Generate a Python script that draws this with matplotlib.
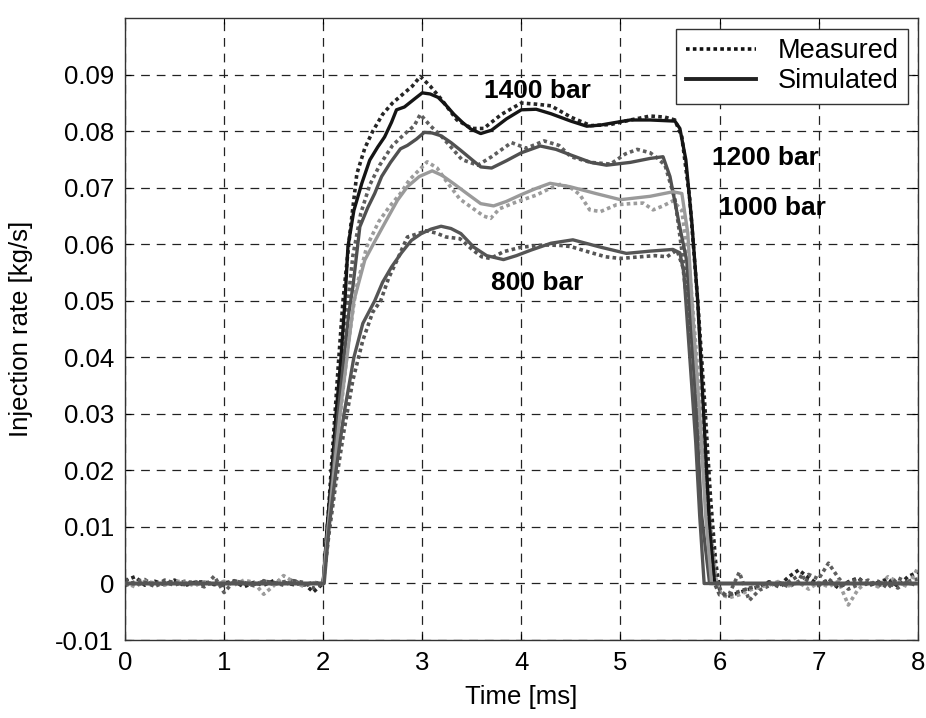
import matplotlib
matplotlib.use('Agg')
import matplotlib.pyplot as plt
from matplotlib.lines import Line2D

plt.rcParams['font.family'] = ['Liberation Sans', 'DejaVu Sans']

# simulated injection rates [kg/s] vs time [ms]
sim_1400_t = [0, 2.0, 2.04, 2.09, 2.13, 2.18, 2.22, 2.25, 2.31, 2.39, 2.47, 2.55, 2.62, 2.69, 2.74, 2.82, 2.92, 3.0,
              3.08, 3.16, 3.24, 3.32, 3.41, 3.49, 3.59, 3.7, 3.85, 4.0, 4.15, 4.3, 4.5, 4.66, 4.8, 4.93, 5.1, 5.3,
              5.55, 5.6, 5.66, 5.72, 5.78, 5.84, 5.9, 5.95, 8.0]
sim_1400_y = [0, 0, 0.01, 0.02, 0.03, 0.04, 0.05, 0.0596, 0.066, 0.0708, 0.0749, 0.0772, 0.079, 0.0816, 0.0838, 0.0843,
              0.0857, 0.0868, 0.0866, 0.086, 0.0846, 0.083, 0.0815, 0.0804, 0.0796, 0.0802, 0.0822, 0.0838, 0.0839,
              0.0831, 0.0818, 0.0809, 0.0811, 0.0815, 0.082, 0.082, 0.0818, 0.0805, 0.075, 0.064, 0.05, 0.03, 0.01, 0, 0]

sim_1200_t = [0, 2.0, 2.05, 2.10, 2.15, 2.21, 2.26, 2.3, 2.37, 2.45, 2.52, 2.59, 2.68, 2.78, 2.85, 2.94, 3.02, 3.1,
              3.19, 3.29, 3.39, 3.5, 3.59, 3.7, 3.85, 4.0, 4.19, 4.35, 4.5, 4.7, 4.86, 5.1, 5.3, 5.43, 5.5, 5.6,
              5.67, 5.75, 5.82, 5.9, 8.0]
sim_1200_y = [0, 0, 0.01, 0.02, 0.03, 0.04, 0.048, 0.0525, 0.0631, 0.0665, 0.069, 0.072, 0.0745, 0.0769, 0.0775, 0.0786,
              0.0798, 0.0797, 0.0792, 0.078, 0.0766, 0.075, 0.0737, 0.0735, 0.0748, 0.0762, 0.0774, 0.0768, 0.0758,
              0.0745, 0.074, 0.0745, 0.0752, 0.0755, 0.072, 0.063, 0.057, 0.035, 0.012, 0, 0]

sim_1000_t = [0, 2.0, 2.05, 2.11, 2.17, 2.24, 2.31, 2.42, 2.52, 2.62, 2.75, 2.85, 2.97, 3.1, 3.2, 3.32, 3.45, 3.59,
              3.72, 3.85, 4.0, 4.15, 4.29, 4.49, 4.75, 5.0, 5.3, 5.53, 5.62, 5.68, 5.74, 5.8, 5.86, 5.92, 8.0]
sim_1000_y = [0, 0, 0.01, 0.02, 0.03, 0.04, 0.05, 0.0572, 0.0605, 0.0637, 0.0678, 0.0702, 0.072, 0.073, 0.0722, 0.0707,
              0.069, 0.0672, 0.0668, 0.0676, 0.0688, 0.0699, 0.0708, 0.0702, 0.069, 0.0679, 0.0685, 0.0693, 0.069, 0.062,
              0.045, 0.03, 0.012, 0, 0]

sim_800_t = [0, 2.01, 2.06, 2.13, 2.21, 2.31, 2.40, 2.52, 2.6, 2.69, 2.79, 2.89, 2.99, 3.09, 3.19, 3.29, 3.39, 3.52,
             3.65, 3.82, 3.95, 4.1, 4.3, 4.52, 4.8, 5.06, 5.3, 5.53, 5.6, 5.64, 5.68, 5.72, 5.76, 5.8, 5.845, 8.0]
sim_800_y = [0, 0, 0.01, 0.02, 0.03, 0.04, 0.046, 0.05, 0.0533, 0.056, 0.0585, 0.0607, 0.0619, 0.0627, 0.0632, 0.0628,
             0.0619, 0.0595, 0.058, 0.0573, 0.058, 0.059, 0.0602, 0.0608, 0.0595, 0.0584, 0.0588, 0.0591, 0.0585, 0.055,
             0.045, 0.035, 0.025, 0.012, 0, 0]

# measured: baseline before injection, injection event, baseline after
t_pre = [0.0, 0.1, 0.2, 0.3, 0.4, 0.5, 0.6, 0.7, 0.8, 0.9, 1.0, 1.1, 1.2, 1.3, 1.4, 1.5, 1.6, 1.7, 1.8, 1.9]
t_post = [6.1, 6.2, 6.3, 6.4, 6.5, 6.6, 6.7, 6.8, 6.9, 7.0, 7.1, 7.2, 7.3, 7.4, 7.5, 7.6, 7.7, 7.8, 7.9, 8.0]

meas_1400_pre = [0.0005, 0.0012, -0.0003, 0.0004, -0.0002, 0.0006, -0.0004, 0.0002, 0.0003, -0.0002,
                 0.0001, 0.0004, -0.0006, 0.0002, -0.0003, 0.0005, 0.0002, -0.0002, 0.0001, -0.0015]
meas_1200_pre = [-0.0004, 0.0003, 0.0007, -0.0005, 0.0002, -0.0003, 0.0004, 0.0001, -0.0006, 0.0013,
                 -0.0016, 0.0004, 0.0002, -0.0004, 0.0005, -0.0002, 0.0003, 0.0006, -0.0003, 0.0002]
meas_1000_pre = [0.0002, -0.0006, 0.0004, 0.0001, -0.0003, 0.0005, 0.0002, -0.0004, 0.0003, -0.0002,
                 0.0004, -0.0003, 0.0006, 0.0002, -0.0019, -0.0004, 0.0014, 0.0003, -0.0005, 0.0001]
meas_800_pre = [0.0008, -0.0002, 0.0002, -0.0005, 0.0006, 0.0001, -0.0002, 0.0004, -0.0003, 0.0002,
                -0.0004, 0.0005, 0.0001, -0.0002, 0.0004, 0.0002, -0.0003, 0.0005, 0.0002, -0.0008]

meas_1400_mid_t = [2.0, 2.05, 2.1, 2.15, 2.2, 2.27, 2.34, 2.42, 2.5, 2.6, 2.7, 2.8, 2.9, 2.98, 3.08, 3.2, 3.35, 3.5, 3.62,
                   3.8, 4.0, 4.15, 4.3, 4.5, 4.7, 4.9, 5.1, 5.3, 5.45, 5.55, 5.62, 5.7, 5.78, 5.85, 5.91, 5.96, 6.0, 6.05]
meas_1400_mid_y = [0.0, 0.012, 0.025, 0.038, 0.05, 0.062, 0.0725, 0.077, 0.080, 0.083, 0.085, 0.0865, 0.088, 0.0897, 0.088,
                   0.0855, 0.082, 0.0805, 0.0805, 0.083, 0.085, 0.0848, 0.0845, 0.0825, 0.081, 0.0812, 0.082, 0.0827, 0.0825,
                   0.082, 0.079, 0.068, 0.05, 0.032, 0.015, 0.004, -0.001, -0.002]

meas_1200_mid_t = [2.0, 2.05, 2.1, 2.16, 2.22, 2.3, 2.38, 2.47, 2.57, 2.7, 2.82, 2.92, 2.98, 3.08, 3.2, 3.4, 3.56, 3.7, 3.9,
                   4.05, 4.23, 4.38, 4.5, 4.7, 4.9, 5.05, 5.17, 5.3, 5.37, 5.45, 5.55, 5.65, 5.75, 5.83, 5.9, 5.96, 6.02, 6.06]
meas_1200_mid_y = [0.0, 0.011, 0.022, 0.034, 0.045, 0.058, 0.0655, 0.0705, 0.074, 0.0775, 0.0795, 0.081, 0.083, 0.081,
                   0.079, 0.075, 0.074, 0.0755, 0.078, 0.077, 0.0783, 0.0775, 0.0755, 0.0745, 0.0742, 0.076, 0.0768, 0.0762,
                   0.0753, 0.074, 0.068, 0.055, 0.038, 0.022, 0.009, 0.001, -0.0015, -0.002]

meas_1000_mid_t = [2.0, 2.05, 2.11, 2.18, 2.25, 2.33, 2.44, 2.56, 2.67, 2.78, 2.87, 2.96, 3.05, 3.15, 3.25, 3.38, 3.5, 3.62,
                   3.69, 3.78, 3.95, 4.15, 4.3, 4.39, 4.5, 4.59, 4.69, 4.8, 4.96, 5.1, 5.23, 5.33, 5.43, 5.53, 5.62, 5.7,
                   5.78, 5.85, 5.92, 5.97, 6.02]
meas_1000_mid_y = [0.0, 0.01, 0.02, 0.031, 0.042, 0.052, 0.0596, 0.064, 0.0667, 0.069, 0.0714, 0.073, 0.0746, 0.0735, 0.071,
                   0.068, 0.0665, 0.065, 0.0646, 0.0663, 0.0675, 0.0687, 0.070, 0.0706, 0.070, 0.0688, 0.0661, 0.0658, 0.067,
                   0.0672, 0.0673, 0.0661, 0.0668, 0.0677, 0.066, 0.055, 0.038, 0.022, 0.008, 0.0, -0.002]

meas_800_mid_t = [2.0, 2.06, 2.13, 2.21, 2.3, 2.4, 2.5, 2.58, 2.66, 2.74, 2.85, 2.94, 3.04, 3.14, 3.24, 3.38, 3.51, 3.6,
                  3.69, 3.82, 4.0, 4.23, 4.4, 4.5, 4.67, 4.85, 5.0, 5.2, 5.35, 5.47, 5.57, 5.63, 5.7, 5.77, 5.84, 5.9, 5.95, 6.0]
meas_800_mid_y = [0.0, 0.009, 0.018, 0.027, 0.036, 0.043, 0.048, 0.050, 0.054, 0.057, 0.0613, 0.0618, 0.0624, 0.062, 0.0613,
                  0.061, 0.059, 0.0578, 0.0575, 0.0587, 0.0595, 0.0599, 0.0598, 0.0596, 0.0587, 0.0578, 0.0575, 0.0578, 0.058,
                  0.0578, 0.059, 0.056, 0.046, 0.034, 0.02, 0.008, 0.0, -0.002]

meas_1400_post = [-0.0022, -0.0016, -0.0010, -0.0006, 0.0003, -0.0004, 0.0012, 0.0024, 0.0010, -0.0002,
                  0.0006, -0.0008, 0.0003, 0.0010, -0.0004, 0.0002, 0.0008, -0.0005, 0.0012, 0.0020]
meas_1200_post = [-0.0018, 0.0020, -0.0030, -0.0012, -0.0004, 0.0002, -0.0006, 0.0004, 0.0016, 0.0008,
                  0.0036, 0.0010, -0.0010, -0.0002, 0.0006, -0.0004, 0.0002, -0.0008, 0.0004, 0.0008]
meas_1000_post = [-0.0025, -0.0020, -0.0012, -0.0006, -0.0003, 0.0004, -0.0004, 0.0002, -0.0010, 0.0002,
                  -0.0006, 0.0004, -0.0038, -0.0010, 0.0004, -0.0006, 0.0012, 0.0003, -0.0006, 0.0027]
meas_800_post = [-0.0020, -0.0014, -0.0008, -0.0004, 0.0002, -0.0006, 0.0003, 0.0014, 0.0004, -0.0004,
                 0.0008, -0.0006, 0.0002, 0.0008, -0.0002, 0.0004, -0.0008, 0.0010, 0.0002, -0.0004]

labels = ['1400 bar', '1200 bar', '1000 bar', '800 bar']
colors = ['#151515', '#505050', '#9a9a9a', '#555555']
meas_colors = ['#252525', '#5e5e5e', '#9c9c9c', '#555555']

sims = [(sim_1400_t, sim_1400_y), (sim_1200_t, sim_1200_y), (sim_1000_t, sim_1000_y), (sim_800_t, sim_800_y)]
meas = [(meas_1400_pre, meas_1400_mid_t, meas_1400_mid_y, meas_1400_post),
        (meas_1200_pre, meas_1200_mid_t, meas_1200_mid_y, meas_1200_post),
        (meas_1000_pre, meas_1000_mid_t, meas_1000_mid_y, meas_1000_post),
        (meas_800_pre, meas_800_mid_t, meas_800_mid_y, meas_800_post)]

fig = plt.figure(figsize=(9.26, 7.18), dpi=100)
ax = fig.add_axes([0.135, 0.1086, 0.856, 0.866])

# measured (dotted) first, simulated (solid) on top
for (pre, mt, my, post), c in zip(meas, meas_colors):
    t = t_pre + mt + t_post
    y = pre + my + post
    ax.plot(t, y, color=c, lw=2.6, linestyle=(0, (1, 0.9)), zorder=2)

for (t, y), c in zip(sims, colors):
    ax.plot(t, y, color=c, lw=2.4, zorder=3, solid_joinstyle='round')

ax.set_xlim(0, 8)
ax.set_ylim(-0.01, 0.1)
ax.set_xticks(range(0, 9))
ax.set_yticks([-0.01, 0, 0.01, 0.02, 0.03, 0.04, 0.05, 0.06, 0.07, 0.08, 0.09])
ax.set_yticklabels(['-0.01', '0', '0.01', '0.02', '0.03', '0.04', '0.05', '0.06', '0.07', '0.08', '0.09'])
ax.tick_params(direction='in', top=True, right=True, length=4, labelsize=18.5, pad=8)
ax.grid(True, color='#222222', lw=0.9, linestyle=(0, (7, 5.5)))
for s in ax.spines.values():
    s.set_linewidth(1.0)
    s.set_color('#333333')

ax.set_xlabel('Time [ms]', fontsize=18.5, labelpad=7)
ax.set_ylabel('Injection rate [kg/s]', fontsize=18.5, labelpad=16)

ax.text(4.16, 0.0872, labels[0], fontsize=19, fontweight='bold', ha='center', va='center')
ax.text(5.92, 0.0752, labels[1], fontsize=19, fontweight='bold', ha='left', va='center')
ax.text(5.99, 0.0665, labels[2], fontsize=19, fontweight='bold', ha='left', va='center')
ax.text(4.16, 0.0531, labels[3], fontsize=19, fontweight='bold', ha='center', va='center')

handles = [Line2D([], [], color='#111111', lw=2.6, linestyle=(0, (1, 0.9))),
           Line2D([], [], color='#222222', lw=2.8)]
leg = ax.legend(handles, ['Measured', 'Simulated'], loc='upper right', fontsize=19.5, fancybox=False,
                framealpha=1, edgecolor='#333333', handlelength=2.6, borderpad=0.35, labelspacing=0.15,
                handletextpad=0.8, borderaxespad=0, bbox_to_anchor=(0.988, 0.983))
leg.get_frame().set_linewidth(1.0)

fig.savefig('out.png', dpi=100)
